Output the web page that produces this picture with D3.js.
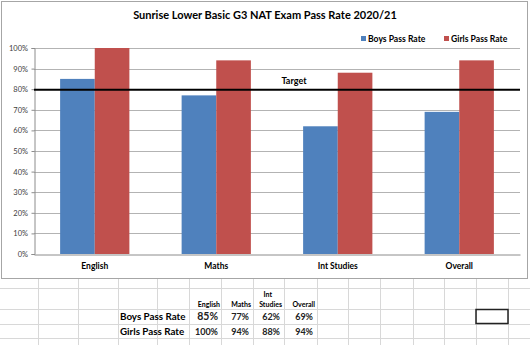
<!DOCTYPE html>
<html>
<head>
<meta charset="utf-8">
<script src="https://cdn.jsdelivr.net/npm/d3@7"></script>
<style>
  html, body { margin: 0; padding: 0; background: #fff; }
  svg { display: block; font-family: Lato, "Open Sans", sans-serif; }
</style>
</head>
<body>
<svg id="c" width="530" height="345"></svg>
<script>
// ---- data ----
const title = "Sunrise Lower Basic G3 NAT Exam Pass Rate 2020/21";
const categories = ["English", "Maths", "Int Studies", "Overall"];
const seriesNames = ["Boys Pass Rate", "Girls Pass Rate"];
const boysPassRate = [0.85, 0.77, 0.62, 0.69];
const girlsPassRate = [1.00, 0.94, 0.88, 0.94];
const targetValue = 0.80;
const targetLabel = "Target";
const yTicks = [0, 0.1, 0.2, 0.3, 0.4, 0.5, 0.6, 0.7, 0.8, 0.9, 1.0];
const tableHeaders = [["English"], ["Maths"], ["Int", "Studies"], ["Overall"]];
const colors = ["#4F81BD", "#C0504D"];

const svg = d3.select("#c");

// ---- spreadsheet background grid ----
const colLines = [38, 78, 118, 157, 189, 221, 253, 284, 317, 348, 380, 413, 444, 476, 508];
const rowLines = [288, 309, 324, 338];
const sheet = svg.append("g");
sheet.selectAll("line.v").data(colLines).join("line")
  .attr("x1", d => d + 0.5).attr("x2", d => d + 0.5)
  .attr("y1", 279).attr("y2", 345)
  .attr("stroke", "#d8d8d8").attr("stroke-width", 1);
sheet.selectAll("line.h").data(rowLines).join("line")
  .attr("x1", 0).attr("x2", 530)
  .attr("y1", d => d + 0.5).attr("y2", d => d + 0.5)
  .attr("stroke", "#d8d8d8").attr("stroke-width", 1);

// table contents
const colRight = [220, 251, 282, 315];
const tbl = svg.append("g").attr("font-weight", "bold").attr("fill", "#000");
tableHeaders.forEach((lines, i) => {
  lines.forEach((t, j) => {
    tbl.append("text")
      .attr("x", colRight[i] - (lines.length > 1 && j === 0 ? 10 : 0))
      .attr("y", 307 - (lines.length - 1 - j) * 10)
      .attr("text-anchor", "end").attr("font-size", 7).text(t);
  });
});
const rows = [[seriesNames[0], boysPassRate, 320], [seriesNames[1], girlsPassRate, 334.5]];
const pct = d3.format(".0%");
rows.forEach(([name, vals, y]) => {
  tbl.append("text").attr("x", 120).attr("y", y).attr("font-size", 9.8).text(name);
  vals.forEach((v, i) => {
    tbl.append("text").attr("x", colRight[i] - 2).attr("y", y)
      .attr("text-anchor", "end")
      .attr("font-size", (name === seriesNames[0] && i === 0) ? 10.5 : 9)
      .attr("fill", "#222")
      .text(pct(v));
  });
});
// selected cell
svg.append("rect").attr("x", 476).attr("y", 309.5).attr("width", 32).attr("height", 14)
  .attr("fill", "none").attr("stroke", "#222").attr("stroke-width", 1.5);

// ---- chart area ----
svg.append("rect").attr("x", 1.5).attr("y", 1.5).attr("width", 526).attr("height", 277)
  .attr("fill", "#fff").attr("stroke", "#a6a6a6").attr("stroke-width", 1);

const plot = { left: 34, right: 520, top: 48, bottom: 254 };
const y = d3.scaleLinear().domain([0, 1]).range([plot.bottom, plot.top]);
const x0 = d3.scaleBand().domain(categories).range([plot.left, plot.right])
  .paddingInner(0.43).paddingOuter(0.215);
const x1 = d3.scaleBand().domain(seriesNames).range([0, x0.bandwidth()]);

// gridlines
svg.append("g").selectAll("line").data(yTicks.filter(d => d > 0)).join("line")
  .attr("x1", plot.left).attr("x2", plot.right)
  .attr("y1", d => Math.round(y(d)) + 0.5).attr("y2", d => Math.round(y(d)) + 0.5)
  .attr("stroke", "#b3b3b3").attr("stroke-width", 1);

// y axis
const yAxis = svg.append("g").attr("transform", `translate(${plot.left + 0.5},0)`)
  .call(d3.axisLeft(y).tickValues(yTicks).tickFormat(d3.format(".0%")).tickSize(3).tickPadding(3.5));
yAxis.selectAll("path, line").attr("stroke", "#8c8c8c");
yAxis.selectAll("text").attr("font-size", 7.5).attr("fill", "#404040")
  .attr("font-family", "Lato, sans-serif");

// bars
const data = categories.map((c, i) => ({ cat: c, vals: [boysPassRate[i], girlsPassRate[i]] }));
const groups = svg.append("g").selectAll("g").data(data).join("g")
  .attr("transform", d => `translate(${x0(d.cat)},0)`);
groups.selectAll("rect").data(d => d.vals.map((v, k) => ({ v, s: seriesNames[k], k })))
  .join("rect")
  .attr("x", d => x1(d.s)).attr("width", x1.bandwidth())
  .attr("y", d => y(d.v)).attr("height", d => y(0) - y(d.v))
  .attr("fill", d => colors[d.k]);

// x axis
const xAxis = svg.append("g").attr("transform", `translate(0,${plot.bottom + 0.5})`)
  .call(d3.axisBottom(x0).tickSize(0).tickPadding(8));
xAxis.select("path").attr("stroke", "#8c8c8c");
xAxis.selectAll("text").attr("font-size", 8.5).attr("font-weight", "bold").attr("fill", "#000")
  .attr("font-family", "Lato, sans-serif");

// target line
svg.append("line").attr("x1", plot.left).attr("x2", plot.right)
  .attr("y1", y(targetValue) + 0.5).attr("y2", y(targetValue) + 0.5)
  .attr("stroke", "#000").attr("stroke-width", 2);
svg.append("text").attr("x", 294).attr("y", y(targetValue) - 5)
  .attr("text-anchor", "middle").attr("font-size", 9).attr("font-weight", "bold").text(targetLabel);

// title
svg.append("text").attr("x", 265).attr("y", 19).attr("text-anchor", "middle")
  .attr("font-size", 11).attr("font-weight", "bold").text(title);

// legend
const legendX = [361, 444];
const lg = svg.append("g").selectAll("g").data(seriesNames).join("g")
  .attr("transform", (d, i) => `translate(${legendX[i]},36)`);
lg.append("rect").attr("width", 5).attr("height", 5).attr("y", 0).attr("fill", (d, i) => colors[i]);
lg.append("text").attr("x", 7).attr("y", 5.7).attr("font-size", 8.6).attr("font-weight", "bold").text(d => d);
</script>
</body>
</html>
